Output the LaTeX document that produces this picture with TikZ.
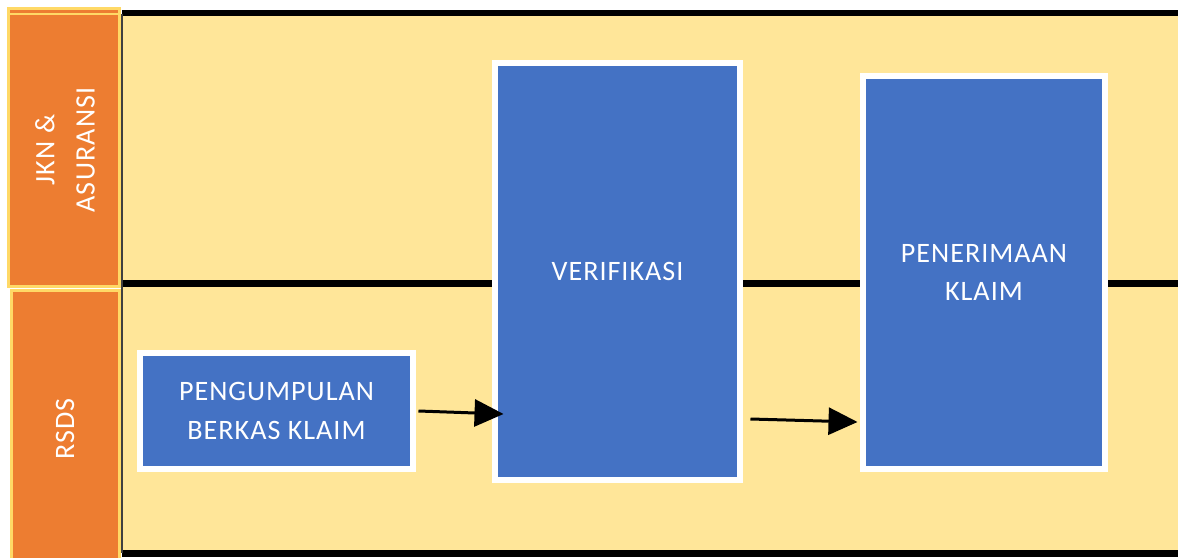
\documentclass[tikz,border=0pt]{standalone}
\usepackage{fontspec}
\setmainfont{Carlito}
\usetikzlibrary{arrows.meta}
\usetikzlibrary{positioning}
\definecolor{lanebg}{HTML}{FFE699}
\definecolor{laneedge}{HTML}{FFD966}
\definecolor{lanehead}{HTML}{ED7D31}
\definecolor{stepblue}{HTML}{4472C4}

\begin{document}
\begin{tikzpicture}[x=0.02cm, y=-0.02cm,
        stepbox/.style={draw=white, line width=0.11cm, fill=stepblue, text=white, align=center,
            font=\fontsize{16}{22}\selectfont\addfontfeatures{LetterSpace=3.5}},
        headbox/.style={draw=laneedge, line width=0.06cm, fill=lanehead},
        headtext/.style={text=white, align=center, rotate=90,
            font=\fontsize{16}{23}\selectfont\addfontfeatures{LetterSpace=4}},
        flow/.style={line width=0.06cm, -{Triangle[length=0.58cm, width=0.54cm]}}]
        \useasboundingbox (0,0) rectangle (1178,558);
        % swimlanes
        \fill [lanebg] (122,14) rectangle (1178,553);
        \draw [line width=0.12cm] (122,13) -- (1178,13);
        \draw [line width=0.14cm] (122,283.5) -- (1178,283.5);
        \draw [line width=0.14cm] (122,553.5) -- (1178,553.5);
        \draw [black!75, line width=0.04cm] (122,14) -- (122,553);
        \draw [headbox] (8.5,8.5) rectangle (119.5,286.5);
        \draw [laneedge, line width=0.04cm] (10,13.5) -- (118,13.5);
        \draw [headbox] (11.5,290.5) rectangle (119.5,562);
        \node [headtext] (jkn) at (65,150) {JKN \&\\ASURANSI};
        \node [headtext] (rsds) at (65,429) {RSDS};
        % steps
        \node [stepbox, minimum width=5.47cm, minimum height=2.33cm] (berkas) at (276.5,411) {PENGUMPULAN\\BERKAS KLAIM};
        \node [stepbox, minimum width=4.91cm, minimum height=8.35cm] (verif) at (617.5,271.5) {VERIFIKASI};
        \node [stepbox, minimum width=4.85cm, minimum height=7.87cm] (terima) at (984,272.5) {PENERIMAAN\\KLAIM};
        \draw [flow] ([xshift=0.05cm]berkas.east) -- ([shift={(11.5,3)}]verif.west |- berkas.east);
        \draw [flow] ([shift={(7.5,147.5)}]verif.east) -- ([shift={(-2.5,149.5)}]terima.west);
    \end{tikzpicture}
\end{document}
